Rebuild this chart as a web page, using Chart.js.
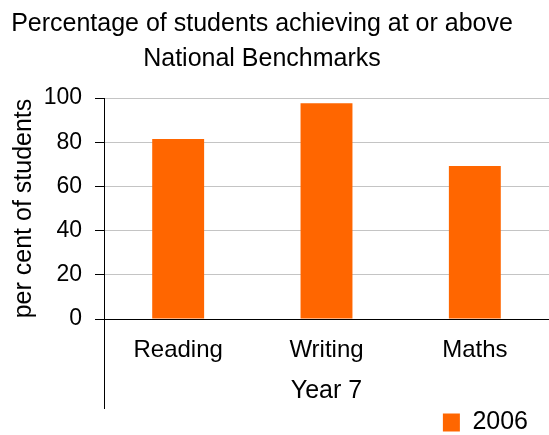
<!DOCTYPE html>
<html>
<head>
<meta charset="utf-8">
<title>Percentage of students achieving at or above National Benchmarks</title>
<script src="https://cdn.jsdelivr.net/npm/chart.js@4"></script>
<style>
    body { margin: 0; background: #fff; }
    canvas { display: block; }
</style>
</head>
<body>
<canvas id="benchmarkChart" width="549" height="435"></canvas>
<script>
// Data
const subjects = ['Reading', 'Writing', 'Maths'];
const year2006 = [81.5, 97.6, 69.2];
const seriesLabel = '2006';
const yTicks = [0, 20, 40, 60, 80, 100];

const orange = '#FF6600';
const gridGrey = '#c4c4c4';
const fontFamily = "'Liberation Sans', Arial, sans-serif";

Chart.defaults.font.family = fontFamily;
Chart.defaults.color = '#000';

// The value axis line carries on below the plot, past the category labels
const axisExtension = {
    id: 'axisExtension',
    afterDraw(chart, args, opts) {
        const { ctx, chartArea } = chart;
        ctx.save();
        ctx.strokeStyle = opts.color;
        ctx.lineWidth = 1;
        ctx.beginPath();
        ctx.moveTo(chartArea.left + 0.5, chartArea.bottom);
        ctx.lineTo(chartArea.left + 0.5, chartArea.bottom + opts.length);
        ctx.stroke();
        ctx.restore();
    }
};

const ctx = document.getElementById('benchmarkChart').getContext('2d');
new Chart(ctx, {
    type: 'bar',
    data: {
        labels: subjects,
        datasets: [{
            label: seriesLabel,
            data: year2006,
            backgroundColor: orange,
            borderWidth: 0,
            barPercentage: 0.35,
            categoryPercentage: 1
        }]
    },
    plugins: [axisExtension],
    options: {
        responsive: false,
        animation: false,
        devicePixelRatio: 1,
        layout: {
            // negative left shifts the centred title a little left, negative bottom drops the legend low
            padding: { left: -25, right: 0, top: 0, bottom: -10 }
        },
        plugins: {
            axisExtension: { color: '#000', length: 90 },
            title: {
                display: true,
                text: ['Percentage of students achieving at or above', 'National Benchmarks'],
                font: { size: 25, weight: 'normal', lineHeight: 1.4 },
                color: '#000',
                padding: { top: 7, bottom: 21 }
            },
            legend: {
                position: 'bottom',
                align: 'end',
                labels: {
                    boxWidth: 17,
                    boxHeight: 18,
                    padding: 21,
                    font: { size: 25 },
                    color: '#000'
                }
            },
            tooltip: { enabled: false }
        },
        scales: {
            x: {
                offset: true,
                border: { display: true, color: '#000', width: 1 },
                grid: { display: false },
                afterFit: (axis) => { axis.height = 70; },
                ticks: {
                    padding: 9,
                    font: { size: 24 },
                    color: '#000'
                },
                title: {
                    display: true,
                    text: 'Year 7',
                    font: { size: 25 },
                    color: '#000',
                    padding: { top: 0, bottom: -17.5 }
                }
            },
            y: {
                min: 0,
                max: 100,
                border: { display: true, color: '#000', width: 1 },
                grid: {
                    color: gridGrey,
                    lineWidth: 1,
                    tickColor: '#000',
                    tickLength: 9
                },
                afterFit: (axis) => { axis.width = 129; },
                afterBuildTicks: (axis) => {
                    axis.ticks = yTicks.map(v => ({ value: v }));
                },
                ticks: {
                    padding: 13,
                    font: { size: 23 },
                    color: '#000'
                },
                title: {
                    display: true,
                    text: 'per cent of students',
                    font: { size: 25 },
                    color: '#000',
                    padding: { top: 34, bottom: 5 }
                }
            }
        }
    }
});
</script>
</body>
</html>
